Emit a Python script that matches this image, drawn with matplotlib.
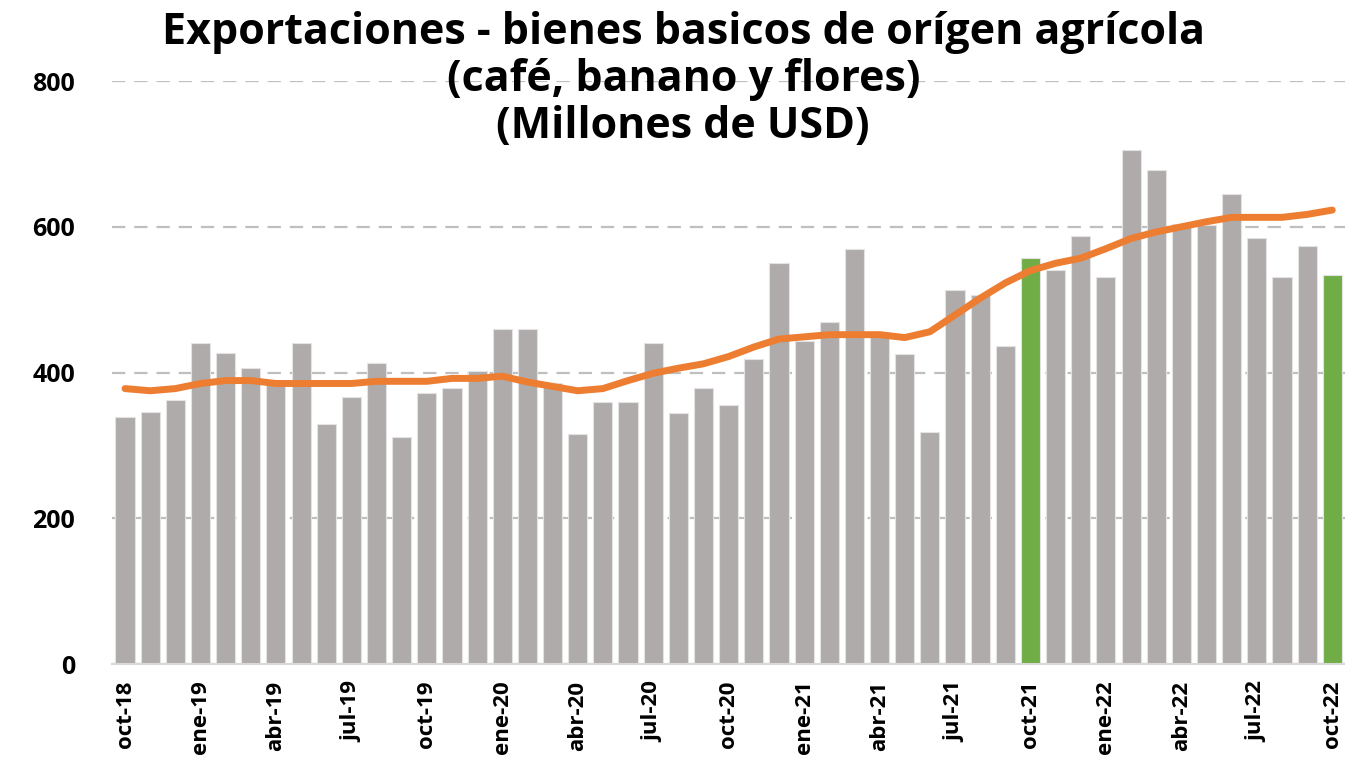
import matplotlib
matplotlib.use("Agg")
import matplotlib.pyplot as plt
import numpy as np

plt.rcParams['font.family'] = ['Open Sans', 'DejaVu Sans']

months = ["oct-18","nov-18","dic-18","ene-19","feb-19","mar-19","abr-19","may-19","jun-19","jul-19","ago-19","sep-19",
          "oct-19","nov-19","dic-19","ene-20","feb-20","mar-20","abr-20","may-20","jun-20","jul-20","ago-20","sep-20",
          "oct-20","nov-20","dic-20","ene-21","feb-21","mar-21","abr-21","may-21","jun-21","jul-21","ago-21","sep-21",
          "oct-21","nov-21","dic-21","ene-22","feb-22","mar-22","abr-22","may-22","jun-22","jul-22","ago-22","sep-22",
          "oct-22"]

exports = [339, 346, 362, 440, 427, 406, 384, 440, 329, 366, 413, 312,
           372, 379, 402, 460, 460, 385, 315, 359, 359, 440, 345, 379,
           356, 419, 551, 443, 470, 570, 455, 426, 319, 513, 507, 436,
           557, 541, 587, 531, 705, 678, 604, 603, 645, 584, 531, 574,
           534]

moving_avg = [378, 375, 378, 385, 389, 389, 385, 385, 385, 385, 388, 388,
              388, 392, 392, 395, 387, 381, 375, 378, 389, 399, 406, 412,
              422, 435, 446, 449, 452, 452, 452, 448, 456, 479, 502, 523,
              540, 550, 557, 570, 584, 593, 600, 607, 613, 613, 613, 617,
              623]

highlight = {"oct-21", "oct-22"}

yticks = [0, 200, 400, 600, 800]

title = "Exportaciones - bienes basicos de orígen agrícola\n(café, banano y flores)\n(Millones de USD)"

fig = plt.figure(figsize=(13.45, 7.65), dpi=100)
ax = fig.add_axes([0.0836, 0.132, 0.9163, 0.762])

x = np.arange(len(months))
colors = ["#70AD47" if m in highlight else "#AFABAB" for m in months]
ax.bar(x, exports, width=0.76, color=colors, edgecolor="#E4E2E2", linewidth=0.8, zorder=2)
ax.plot(x, moving_avg, color="#ED7D31", linewidth=5, solid_capstyle="round",
        solid_joinstyle="round", zorder=3)

ax.set_xlim(-0.5, 48.5)
ax.set_ylim(0, 800)
ax.set_yticks(yticks)
ax.set_yticklabels([str(v) for v in yticks], fontsize=18, fontweight="bold")
ax.yaxis.grid(True, color="#BFBFBF", linestyle=(0, (6, 4)), linewidth=1.6, zorder=0)
ax.set_axisbelow(True)

tick_pos = x[::3]
ax.set_xticks(tick_pos)
ax.set_xticklabels([months[i] for i in tick_pos], rotation=90, fontsize=16, fontweight="bold")
ax.tick_params(axis="both", length=0)
ax.tick_params(axis="y", pad=27)
ax.tick_params(axis="x", pad=12)

for s in ["top", "right", "left"]:
    ax.spines[s].set_visible(False)
ax.spines["bottom"].set_color("#D9D9D9")
ax.spines["bottom"].set_linewidth(1.5)

fig.text(0.508, 0.986, title, ha="center", va="top", fontsize=31, fontweight="bold",
         linespacing=1.12, zorder=5)

fig.savefig("out.png", dpi=100)
